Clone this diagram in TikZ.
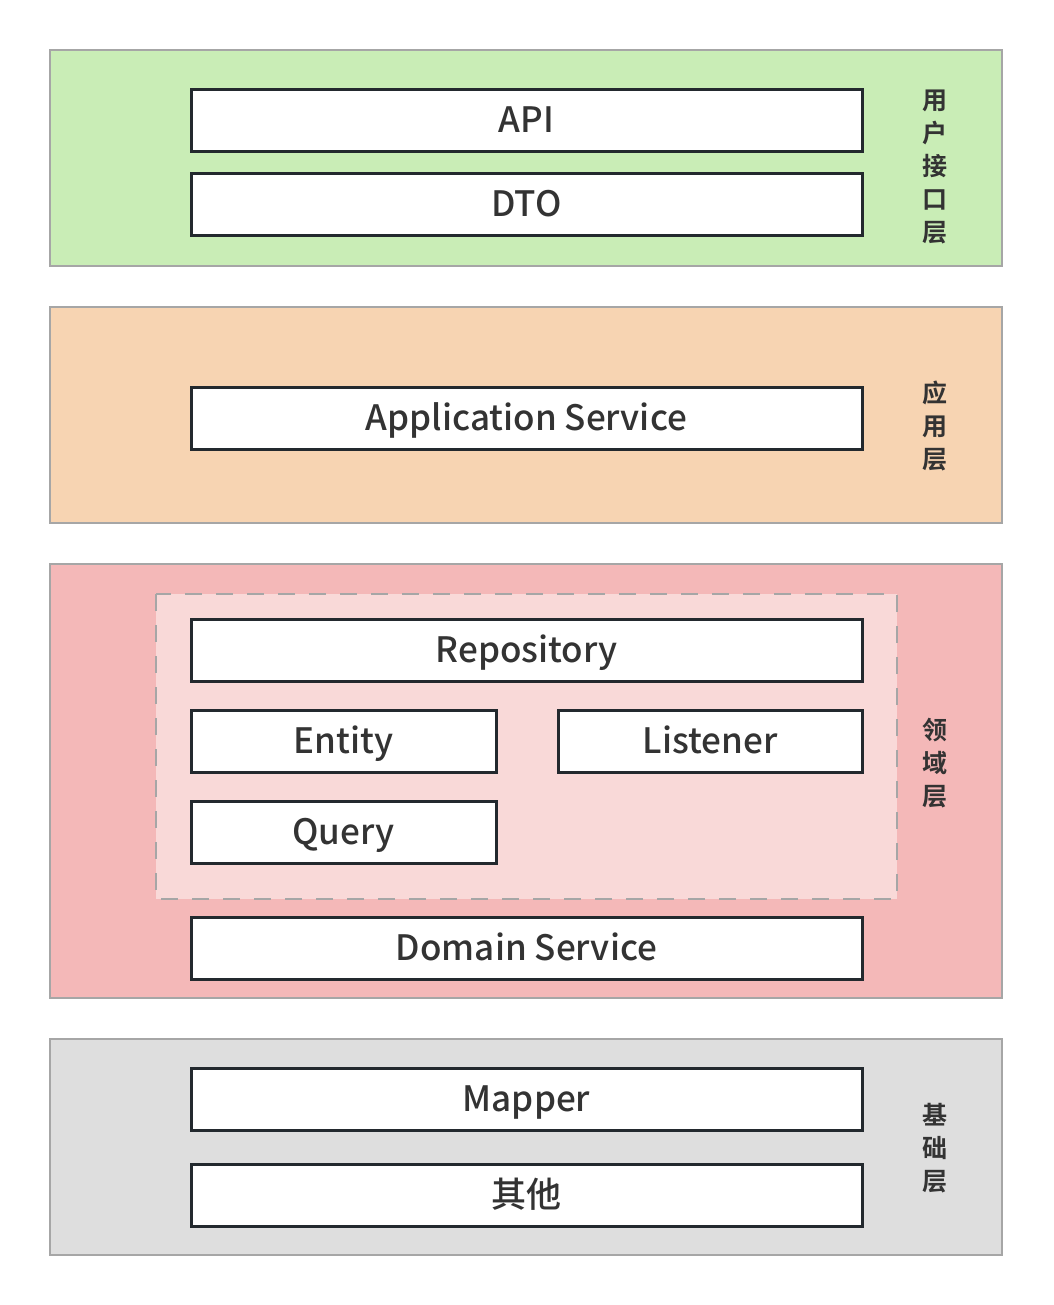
\documentclass[tikz,border=0pt]{standalone}
\usepackage{fontspec}
\setmainfont{Noto Sans CJK SC}
\newfontfamily\cjkb{Noto Sans CJK SC Bold}
\newfontfamily\cjkm{Noto Sans CJK SC Medium}
\definecolor{lgreen}{HTML}{C9EDB6}
\definecolor{lorange}{HTML}{F7D4B2}
\definecolor{lred}{HTML}{F4B8B8}
\definecolor{lpink}{HTML}{F9D9D8}
\definecolor{lgray}{HTML}{DEDEDE}
\definecolor{bgray}{HTML}{A6A6A6}
\definecolor{dark}{HTML}{23292E}
\definecolor{txt}{HTML}{333333}
\begin{document}
\begin{tikzpicture}[x=1pt,y=-1pt,
  layer/.style={draw=bgray,line width=2.5pt},
  item/.style={draw=dark,fill=white,line width=3pt},
  lbl/.style={font=\cjkm\fontsize{35}{35}\selectfont,text=txt,text height=24pt,text depth=0pt,inner sep=0pt},
  side/.style={font=\cjkb\fontsize{25}{33}\selectfont,text=txt,align=center,inner sep=0pt}]
\useasboundingbox[fill=white] (0,0) rectangle (1053,1305);
% layers
\draw[layer,fill=lgreen] (50,50) rectangle (1002,266);
\draw[layer,fill=lorange] (50,307) rectangle (1002,523);
\draw[layer,fill=lred] (50,564) rectangle (1002,998);
\draw[layer,fill=lgray] (50,1039) rectangle (1002,1255);
\draw[draw=bgray,line width=2.8pt,fill=lpink,dash pattern=on 17pt off 14pt] (156,594) rectangle (897,899);
% items
\draw[item] (191,90) rectangle (862,152) node[midway,lbl] (api) {API};
\draw[item] (191,174) rectangle (862,236) node[midway,lbl] (dto) {DTO};
\draw[item] (191,387) rectangle (862,449) node[midway,lbl] (app) {Application Service};
\draw[item] (191,619) rectangle (862,681) node[midway,lbl] (repo) {Repository};
\draw[item] (191,710) rectangle (496,772) node[midway,lbl] (ent) {Entity};
\draw[item] (558,710) rectangle (862,772) node[midway,lbl] (lis) {Listener};
\draw[item] (191,801) rectangle (496,863) node[midway,lbl] (qry) {Query};
\draw[item] (191,917) rectangle (862,979) node[midway,lbl] (dom) {Domain Service};
\draw[item] (191,1068) rectangle (862,1130) node[midway,lbl] (map) {Mapper};
\draw[item] (191,1164) rectangle (862,1226) node[midway,lbl] (oth) {其他};
% side labels
\node[side] (s1) at (935,167) {用\\户\\接\\口\\层};
\node[side] (s2) at (935,426) {应\\用\\层};
\node[side] (s3) at (935,763) {领\\域\\层};
\node[side] (s4) at (935,1148) {基\\础\\层};
\end{tikzpicture}
\end{document}
